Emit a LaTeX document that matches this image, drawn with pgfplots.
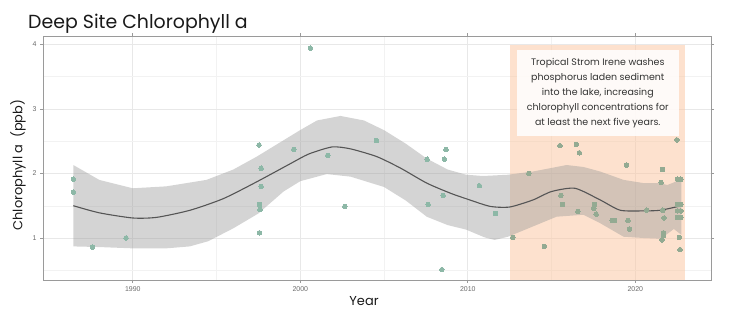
\documentclass[border=0pt]{standalone}
\usepackage{fontspec}
\setmainfont{Poppins}
\newfontfamily\tickfont{Liberation Sans}
\usepackage{pgfplots}
\pgfplotsset{compat=1.18}
\definecolor{ptA}{HTML}{8DB8A7}
\definecolor{ptB}{HTML}{93AA92}
\definecolor{peach}{HTML}{FBC9A5}
\definecolor{bandgray}{HTML}{999999}
\definecolor{linegray}{HTML}{555555}
\definecolor{ticktext}{HTML}{6A6A6A}
\definecolor{framegray}{HTML}{9A9A9A}
\begin{document}
\begin{tikzpicture}
\path[use as bounding box] (0,0) rectangle (750bp,331bp);
\node[anchor=base west, font=\fontsize{19}{22}\selectfont, text=black!90, inner sep=0] at (28bp,302.5bp) {Deep Site Chlorophyll a};
\node[rotate=90, font=\fontsize{13}{15}\selectfont, text=black!90, inner sep=0] at (18bp,166bp) {Chlorophyll a\ \ (ppb)};
\node[anchor=base, font=\fontsize{13}{15}\selectfont, text=black!90, inner sep=0] at (364bp,26bp) {Year};
\begin{axis}[
  at={(43bp,51bp)}, anchor=south west,
  scale only axis, width=668bp, height=243.5bp,
  xmin=1984.64, xmax=2024.52, ymin=0.35, ymax=4.12,
  xtick={1990,2000,2010,2020}, minor xtick={1995,2005,2015},
  ytick={1,2,3,4}, minor ytick={0.5,1.5,2.5,3.5},
  /pgf/number format/1000 sep={},
  /pgf/number format/assume math mode=true,
  tick label style={font=\tickfont\fontsize{7}{8}\selectfont, text=ticktext},
  grid=both,
  major grid style={color=black!9, line width=0.6bp},
  minor grid style={color=black!5, line width=0.35bp},
  axis line style={framegray, line width=0.9bp},
  tick align=outside, major tick length=3bp, minor tick length=0pt,
  tick style={framegray, line width=0.6bp},
]
% storm period shading
\addplot[draw=none, fill=peach, fill opacity=0.55, forget plot] coordinates {(2012.52,0.35) (2022.97,0.35) (2022.97,3.985) (2012.52,3.985)} -- cycle;
% confidence band (upper edge left to right, then lower edge right to left)
\addplot[draw=none, fill=bandgray, fill opacity=0.42, forget plot] table {
1986.45 2.13
1988 1.90
1990 1.77
1992 1.80
1994.4 1.90
1996 2.06
1997.4 2.26
1999.99 2.67
2001 2.82
2002.4 2.89
2003.8 2.82
2005 2.67
2006.3 2.46
2007.55 2.23
2008.8 2.06
2009.9 1.98
2010.9 1.96
2012.4 1.98
2013.9 2.03
2015.9 2.13
2016.9 2.10
2017.9 2.03
2019.3 1.90
2020.5 1.85
2021.5 1.85
2021.9 1.82
2022.3 1.86
2022.75 1.92
2022.75 1.05
2022.3 1.14
2022.0 1.08
2021.5 0.99
2020.5 1.00
2019.3 1.02
2017.9 1.23
2016.9 1.36
2015.3 1.33
2013.9 1.18
2012.4 1.02
2011.6 0.97
2011 1.01
2009.9 1.13
2008.8 1.20
2007.55 1.33
2006.3 1.58
2005 1.79
2003 1.95
2001.58 1.99
2000 1.88
1999 1.72
1997.5 1.38
1996 1.15
1994.5 0.95
1993.4 0.87
1992 0.84
1990 0.84
1988 0.86
1986.45 0.87
} -- cycle;
% smooth line
\addplot[linegray, line width=1.1bp, smooth, tension=0.4, forget plot] table {
1986.45 1.50
1988 1.39
1990 1.31
1991.43 1.32
1993.42 1.43
1995.41 1.61
1997.4 1.87
1999.4 2.15
2000.5 2.30
2001.9 2.41
2003 2.38
2004.57 2.26
2006 2.08
2007.55 1.85
2009 1.69
2010 1.60
2011.33 1.49
2012.5 1.48
2013.9 1.59
2015 1.72
2016.4 1.77
2017.9 1.59
2019.1 1.43
2020.5 1.42
2021.5 1.43
2022.75 1.50
};
% points before the storm
\addplot[only marks, color=ptA, mark=*, mark size=2.3bp, mark options={draw=ptA, fill=ptA, line width=0pt}, forget plot] table {
1986.45 1.91
1986.45 1.71
1987.6 0.86
1989.6 1.00
1997.54 2.44
1997.66 2.08
1997.66 1.80
1997.56 1.52
1997.6 1.44
1997.56 1.08
1999.61 2.37
2000.6 3.94
2001.64 2.28
2002.66 1.49
2004.54 2.51
2007.57 2.22
2007.63 1.52
2008.45 0.51
2008.53 1.66
2008.6 2.22
2008.7 2.37
2010.69 1.81
2011.65 1.38
};
% points after the storm
\addplot[only marks, color=ptB, mark=*, mark size=2.3bp, mark options={draw=ptB, fill=ptB, line width=0pt}, forget plot] table {
2012.69 1.01
2013.64 2.00
2014.57 0.87
2015.5 2.43
2015.56 1.66
2015.66 1.52
2016.48 2.45
2016.66 2.32
2016.57 1.41
2017.56 1.52
2017.52 1.46
2017.66 1.37
2018.62 1.27
2018.76 1.27
2019.48 2.13
2019.56 1.27
2019.65 1.14
2020.68 1.43
2021.54 1.86
2021.62 2.06
2021.64 1.43
2021.72 1.31
2021.68 1.08
2021.68 1.04
2021.6 0.97
2022.48 2.52
2022.52 1.91
2022.72 1.91
2022.52 1.52
2022.72 1.52
2022.52 1.42
2022.72 1.42
2022.52 1.32
2022.72 1.32
2022.63 1.01
2022.67 0.82
};
% annotation
\fill[white, opacity=0.85] (axis cs:2012.92,2.583) rectangle (axis cs:2022.61,3.907);
\node[align=center, font=\fontsize{9.5}{15}\selectfont, text=black!80, inner sep=0] at (axis cs:2017.76,3.245)
  {Tropical Strom Irene washes\\phosphorus laden sediment\\into the lake, increasing\\chlorophyll concentrations for\\at least the next five years.};
\end{axis}
\end{tikzpicture}
\end{document}
